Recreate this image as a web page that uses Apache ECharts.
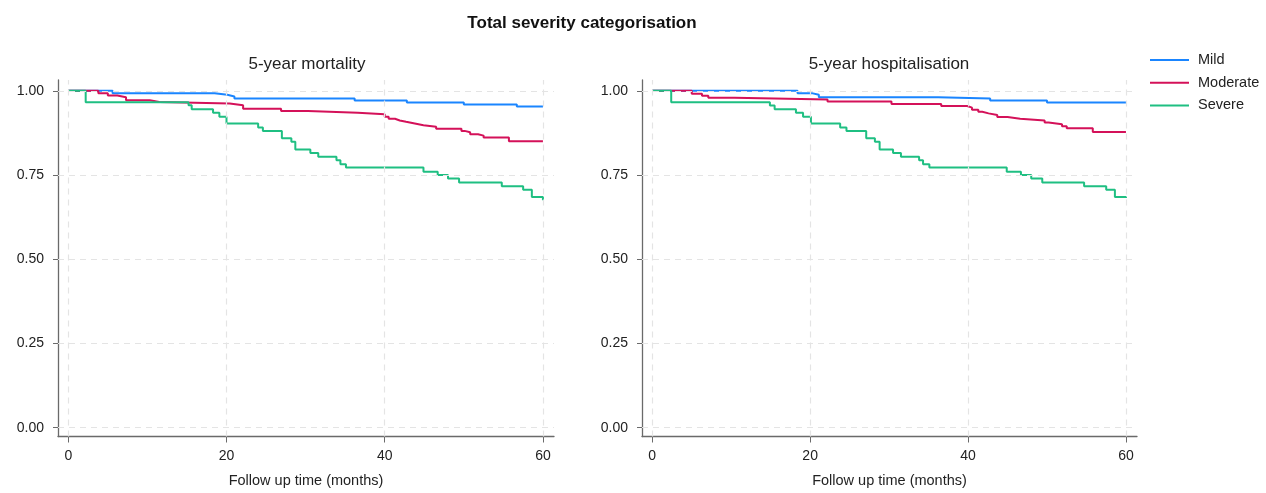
<!DOCTYPE html>
<html>
<head>
<meta charset="utf-8">
<script src="https://cdn.jsdelivr.net/npm/echarts@6/dist/echarts.min.js"></script>
<style>
  html, body { margin: 0; padding: 0; background: #fff; }
  #chart { width: 1266px; height: 493px; }
</style>
</head>
<body>
<div id="chart"></div>
<script>
// tick values
var xTicks = [0, 20, 40, 60];
var yTicks = [0, 0.25, 0.5, 0.75, 1];

// step points [month, survival] - 5-year mortality
var mildMortality = [[0, 1], [5.6, 0.993], [18.5, 0.988], [20.1, 0.983], [21.0, 0.977], [36.2, 0.971], [42.8, 0.965], [50.0, 0.959], [56.7, 0.953], [60, 0.953]];
var moderateMortality = [[0, 1], [3.8, 0.993], [5.0, 0.986], [6.2, 0.981], [7.3, 0.972], [10.3, 0.967], [11.5, 0.962], [20.4, 0.957], [22.1, 0.947], [26.9, 0.940], [30.3, 0.935], [36.6, 0.930], [40.0, 0.923], [40.5, 0.917], [41.3, 0.912], [41.9, 0.908], [42.7, 0.903], [43.8, 0.898], [44.9, 0.893], [46.5, 0.887], [49.7, 0.881], [50.1, 0.877], [50.8, 0.871], [51.8, 0.867], [52.5, 0.861], [55.7, 0.850], [60, 0.850]];
var severeMortality = [[0, 1], [2.2, 0.966], [15.2, 0.957], [15.6, 0.945], [18.3, 0.935], [19.1, 0.923], [20.0, 0.903], [24.0, 0.891], [24.6, 0.881], [27.0, 0.859], [28.2, 0.849], [28.7, 0.826], [30.6, 0.815], [31.6, 0.804], [33.9, 0.794], [34.4, 0.782], [35.1, 0.772], [44.9, 0.760], [46.7, 0.750], [48.0, 0.740], [49.4, 0.728], [54.8, 0.717], [57.5, 0.706], [58.6, 0.685], [60, 0.675]];

// step points [month, survival] - 5-year hospitalisation
var mildHosp = [[0, 1], [18.4, 0.993], [20.2, 0.988], [21.1, 0.981], [36.2, 0.977], [42.8, 0.971], [50.0, 0.965], [60, 0.965]];
var moderateHosp = [[0, 1], [5.0, 0.991], [6.3, 0.985], [7.1, 0.979], [10.4, 0.974], [22.2, 0.968], [30.3, 0.961], [36.6, 0.955], [39.9, 0.950], [40.5, 0.944], [41.3, 0.938], [41.8, 0.933], [42.6, 0.928], [43.7, 0.922], [45.0, 0.917], [46.6, 0.912], [49.7, 0.906], [50.2, 0.901], [51.9, 0.895], [52.5, 0.889], [55.8, 0.878], [60, 0.878]];
var severeHosp = [[0, 1], [2.4, 0.966], [14.9, 0.956], [15.5, 0.945], [18.2, 0.935], [19.1, 0.923], [20.1, 0.903], [23.8, 0.891], [24.6, 0.881], [27.1, 0.859], [28.2, 0.849], [28.8, 0.826], [30.5, 0.815], [31.5, 0.804], [33.8, 0.794], [34.3, 0.782], [35.1, 0.772], [44.9, 0.760], [46.7, 0.750], [48.0, 0.740], [49.4, 0.728], [54.7, 0.717], [57.5, 0.706], [58.6, 0.685], [60, 0.682]];

var colors = { Mild: "#1a85ff", Moderate: "#d41159", Severe: "#1fbf82" };
var font = "Liberation Sans, Arial, sans-serif";
var axisColor = "#6a6a6a";

var chart = echarts.init(document.getElementById("chart"));

function xAxisFor(i) {
  return {
    type: "value",
    gridIndex: i,
    min: -1.3,
    max: 61.4,
    name: "Follow up time (months)",
    nameLocation: "middle",
    nameGap: 36.5,
    nameTextStyle: { color: "#222", fontSize: 14.5, fontFamily: font },
    axisLine: { onZero: false, lineStyle: { color: axisColor, width: 1.3 } },
    axisTick: { customValues: xTicks, length: 6, lineStyle: { color: axisColor } },
    axisLabel: { customValues: xTicks, color: "#222", fontSize: 14, fontFamily: font, margin: 13 },
    splitLine: { show: false },
  };
}

function yAxisFor(i) {
  return {
    type: "value",
    gridIndex: i,
    min: -0.026,
    max: 1.032,
    axisLine: { show: true, onZero: false, lineStyle: { color: axisColor, width: 1.3 } },
    axisTick: { show: true, customValues: yTicks, length: 5, lineStyle: { color: axisColor } },
    axisLabel: {
      customValues: yTicks,
      color: "#222",
      fontSize: 14,
      fontFamily: font,
      margin: 14,
      formatter: function (v) { return v.toFixed(2); },
    },
    splitLine: { show: false },
  };
}

// dashed grid lines drawn through the axes
function gridLines(i) {
  var data = [];
  xTicks.forEach(function (v) { data.push({ xAxis: v }); });
  yTicks.forEach(function (v) { data.push({ yAxis: v }); });
  return {
    type: "line",
    xAxisIndex: i,
    yAxisIndex: i,
    data: [[0, 1]],
    symbol: "none",
    lineStyle: { opacity: 0 },
    silent: true,
    z: 1,
    markLine: {
      silent: true,
      symbol: "none",
      label: { show: false },
      lineStyle: { color: "#e4e4e4", type: [6, 5], width: 1.2 },
      data: data,
    },
  };
}

function stepSeries(name, data, i) {
  return {
    name: name,
    type: "line",
    step: "end",
    xAxisIndex: i,
    yAxisIndex: i,
    data: data,
    symbol: "none",
    z: 3,
    lineStyle: { color: colors[name], width: 2 },
    itemStyle: { color: colors[name] },
  };
}

chart.setOption({
  animation: false,
  textStyle: { fontFamily: font },
  title: [
    { text: "Total severity categorisation", left: 577, top: 10, textAlign: "center",
      textStyle: { fontSize: 17, fontWeight: "bold", color: "#111", fontFamily: font } },
    { text: "5-year mortality", left: 302, top: 51, textAlign: "center",
      textStyle: { fontSize: 17, fontWeight: "normal", color: "#222", fontFamily: font } },
    { text: "5-year hospitalisation", left: 884, top: 51, textAlign: "center",
      textStyle: { fontSize: 17, fontWeight: "normal", color: "#222", fontFamily: font } },
  ],
  legend: {
    orient: "vertical",
    left: 1145,
    top: 47,
    itemWidth: 39,
    itemHeight: 2,
    itemGap: 6.7,
    icon: "rect",
    data: ["Mild", "Moderate", "Severe"],
    textStyle: { fontSize: 14.5, lineHeight: 16, color: "#222", fontFamily: font, padding: [0, 0, 0, 4] },
  },
  grid: [
    { left: 58, right: 1266 - 554, top: 80, bottom: 50 },
    { left: 642, right: 1266 - 1137, top: 80, bottom: 50 },
  ],
  xAxis: [xAxisFor(0), xAxisFor(1)],
  yAxis: [yAxisFor(0), yAxisFor(1)],
  series: [
    gridLines(0),
    gridLines(1),
    stepSeries("Mild", mildMortality, 0),
    stepSeries("Moderate", moderateMortality, 0),
    stepSeries("Severe", severeMortality, 0),
    stepSeries("Mild", mildHosp, 1),
    stepSeries("Moderate", moderateHosp, 1),
    stepSeries("Severe", severeHosp, 1),
  ],
});
</script>
</body>
</html>
